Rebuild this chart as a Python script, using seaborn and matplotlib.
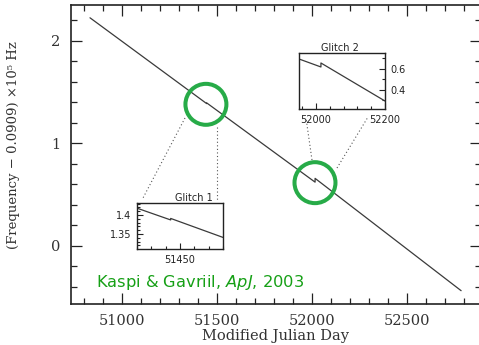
import matplotlib
matplotlib.use("Agg")
import matplotlib.pyplot as plt
import seaborn as sns
import pandas as pd
from matplotlib.ticker import MultipleLocator, FixedLocator

# ---------------- data ----------------
main_mjd = [50830, 51444, 51444, 52014.5, 52014.5, 52783]
main_freq = [2.225, 1.387, 1.394, 0.620, 0.657, -0.440]

g1_mjd = [51420, 51443.5, 51443.5, 51480]
g1_freq = [1.418, 1.387, 1.391, 1.341]

g2_mjd = [51951, 52014.5, 52014.5, 52200]
g2_freq = [0.695, 0.619, 0.657, 0.295]

glitch_mjd = [51440, 52014]
glitch_freq = [1.38, 0.615]

xlabel = "Modified Julian Day"
ylabel = "(Frequency \u2212 0.0909) \u00d710\u2075 Hz"
credit = r"Kaspi & Gavriil, $\mathit{ApJ}$, 2003"

# ---------------- style ----------------
sns.set_style("ticks")
plt.rcParams["font.family"] = ["DejaVu Serif"]
plt.rcParams["mathtext.fontset"] = "dejavusans"

LINE = "#3a3a3a"
GREEN_C = "#27ab48"
GREEN_T = "#16a016"

W = 409.5
fig = plt.figure(figsize=(4.79, 3.45), dpi=100)
ax = fig.add_axes([71 / 479, 41 / 345, W / 479, 299 / 345])

df_main = pd.DataFrame({"mjd": main_mjd, "freq": main_freq})
sns.lineplot(data=df_main, x="mjd", y="freq", ax=ax, estimator=None, sort=False,
             color=LINE, linewidth=0.9)

ax.set_xlim(50730, 52885)
ax.set_ylim(-0.57, 2.35)
ax.xaxis.set_major_locator(MultipleLocator(500))
ax.xaxis.set_minor_locator(MultipleLocator(100))
ax.yaxis.set_major_locator(MultipleLocator(1))
ax.yaxis.set_minor_locator(MultipleLocator(0.2))
ax.tick_params(which="both", direction="in", top=True, right=True, width=0.9,
               colors="#222222", labelsize=10.5, labelcolor="#333333")
ax.tick_params(which="major", length=7.7)
ax.tick_params(which="minor", length=4.5)
ax.tick_params(axis="x", pad=7)
ax.tick_params(axis="y", pad=8)
for s in ax.spines.values():
    s.set_linewidth(1.2)
    s.set_color("#222222")
ax.spines["right"].set_visible(False)

# glitch circles
df_g = pd.DataFrame({"mjd": glitch_mjd, "freq": glitch_freq})
sns.scatterplot(data=df_g, x="mjd", y="freq", ax=ax, s=870, marker="o",
                facecolor="none", edgecolor=GREEN_C, linewidth=2.9, zorder=5)


# dotted connectors (axes-fraction layout, converted from pixel positions)
def fx(px):
    return (px - 71) / W


def fy(py):
    return (304 - py) / 299


ax.set_xlabel(xlabel, fontsize=10.5, color="#333333", labelpad=1)
ax.set_ylabel(ylabel, fontsize=9.5, color="#333333")
ax.yaxis.set_label_coords(fx(20), fy(145))

conns = [((185, 118), (143, 198)),
         ((217, 127), (217, 200)),
         ((312, 160), (306, 118)),
         ((337, 168), (368, 117))]
for (x0, y0), (x1, y1) in conns:
    ax.plot([fx(x0), fx(x1)], [fy(y0), fy(y1)], transform=ax.transAxes,
            color="#555555", linestyle=(0, (1, 2.2)), linewidth=0.8)

ax.text(fx(96), fy(287), credit, transform=ax.transAxes,
        fontsize=11.7, color=GREEN_T, family="DejaVu Sans", ha="left",
        va="baseline")


# ---------------- insets ----------------
def style_inset(a):
    for s in a.spines.values():
        s.set_linewidth(1.0)
        s.set_color("#222222")
    a.set_xlabel("")
    a.set_ylabel("")
    a.set_facecolor("white")


ax1 = fig.add_axes([137 / 479, (345 - 249) / 345, 86 / 479, 46 / 345])
df1 = pd.DataFrame({"mjd": g1_mjd, "freq": g1_freq})
sns.lineplot(data=df1, x="mjd", y="freq", ax=ax1, estimator=None, sort=False,
             color=LINE, linewidth=0.9)
ax1.set_xlim(51420, 51480)
ax1.set_ylim(1.3105, 1.4316)
ax1.xaxis.set_major_locator(FixedLocator([51450]))
ax1.xaxis.set_minor_locator(MultipleLocator(10))
ax1.yaxis.set_major_locator(FixedLocator([1.35, 1.4]))
ax1.yaxis.set_minor_locator(MultipleLocator(0.01))
ax1.tick_params(which="both", direction="in", labelsize=7, width=0.8,
                colors="#222222", pad=4)
ax1.tick_params(which="major", length=4)
ax1.tick_params(which="minor", length=2.5)
ax1.set_yticklabels(["1.35", "1.4"], family="DejaVu Sans", fontsize=7)
ax1.set_xticklabels(["51450"], family="DejaVu Sans", fontsize=7)
style_inset(ax1)
ax1.set_title("Glitch 1", fontsize=7, family="DejaVu Sans", x=0.66, pad=1.5,
              color="#222222")

ax2 = fig.add_axes([299 / 479, (345 - 109) / 345, 86 / 479, 56 / 345])
df2 = pd.DataFrame({"mjd": g2_mjd, "freq": g2_freq})
sns.lineplot(data=df2, x="mjd", y="freq", ax=ax2, estimator=None, sort=False,
             color=LINE, linewidth=0.9)
ax2.set_xlim(51951, 52200)
ax2.set_ylim(0.219, 0.752)
ax2.xaxis.set_major_locator(FixedLocator([52000, 52200]))
ax2.xaxis.set_minor_locator(MultipleLocator(40))
ax2.yaxis.set_major_locator(FixedLocator([0.4, 0.6]))
ax2.yaxis.set_minor_locator(MultipleLocator(0.1))
ax2.yaxis.tick_right()
ax2.tick_params(which="both", direction="in", labelsize=7, width=0.8,
                colors="#222222", pad=4, left=False, right=True)
ax2.tick_params(which="major", length=4)
ax2.tick_params(which="minor", length=2.5)
ax2.set_yticklabels(["0.4", "0.6"], family="DejaVu Sans", fontsize=7)
ax2.set_xticklabels(["52000", "52200"], family="DejaVu Sans", fontsize=7)
style_inset(ax2)
ax2.set_title("Glitch 2", fontsize=7, family="DejaVu Sans", x=0.48, pad=1.5,
              color="#222222")

fig.savefig("out.png", dpi=100)
